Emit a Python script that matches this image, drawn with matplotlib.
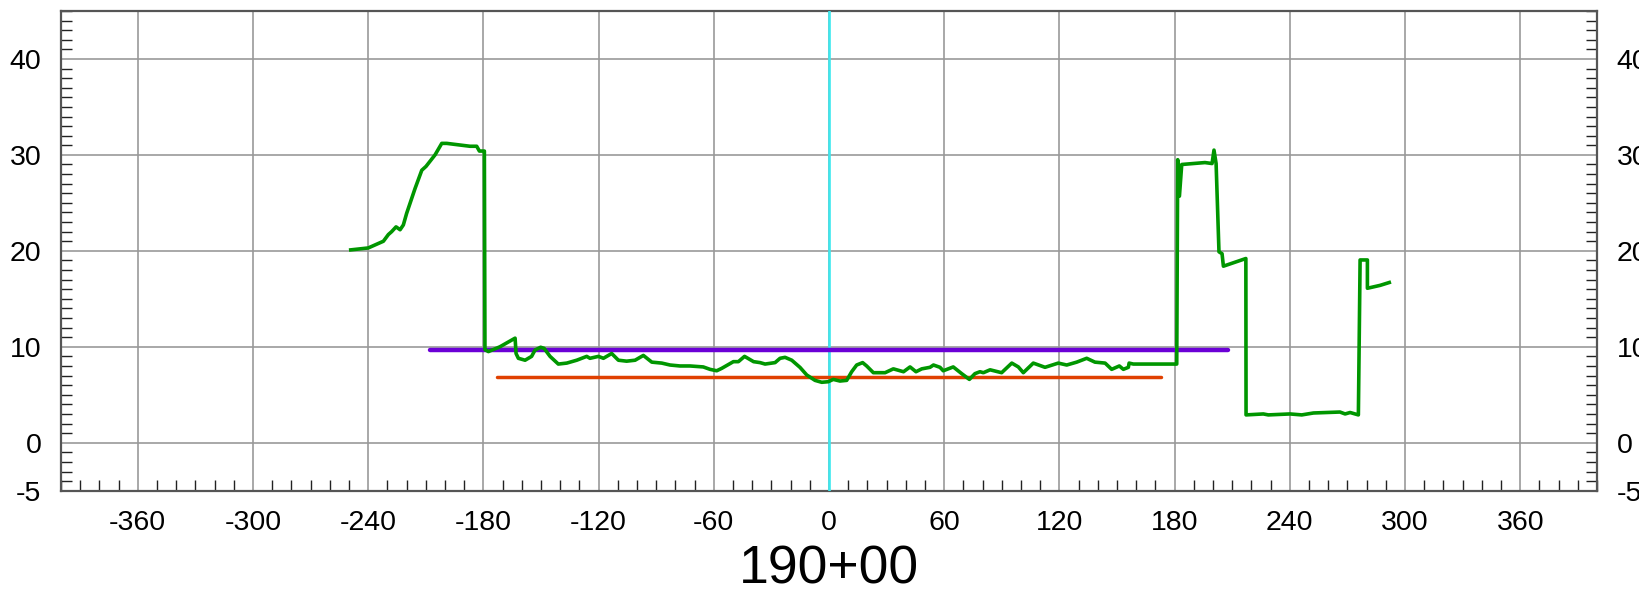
# Cross section plot for station 190+00
import matplotlib.pyplot as plt
import numpy as np

# Ground profile (offset, elevation)
ground_offset = [-249.1, -240.0, -232.1, -229.5, -227.8, -225.5, -223.4, -221.7, -220.0, -215.6,
                 -212.1, -209.9, -205.2, -201.7, -199.1, -187.0, -183.5, -182.1, -179.5, -179.2,
                 -177.4, -171.4, -163.5, -163.0, -161.8, -158.3, -154.9, -153.1, -150.2, -148.4,
                 -145.3, -141.0, -136.6, -131.4, -126.2, -124.5, -120.1, -117.5, -113.2, -109.7,
                 -105.4, -101.0, -96.7, -92.3, -87.1, -82.8, -77.6, -72.4, -65.5, -62.0,
                 -58.5, -55.9, -49.8, -47.2, -44.0, -39.3, -35.9, -33.3, -28.1, -25.5,
                 -22.9, -19.4, -15.1, -11.6, -7.3, -3.8, -0.4, 2.2, 5.7, 9.2,
                 11.8, 14.4, 17.5, 19.6, 23.1, 26.6, 29.2, 33.5, 38.8, 42.2,
                 45.3, 48.3, 52.6, 54.4, 57.8, 59.5, 64.7, 69.1, 73.1, 76.0,
                 78.6, 80.4, 83.9, 89.9, 95.2, 98.6, 101.2, 106.4, 112.5, 119.4,
                 123.8, 129.0, 134.2, 138.5, 143.8, 147.2, 151.2, 153.3, 155.9, 156.3,
                 158.5, 181.1, 181.6, 182.5, 183.7, 195.8, 199.5, 200.5, 201.6, 203.1,
                 204.7, 205.4, 217.1, 217.2, 226.2, 228.8, 240.1, 246.2, 252.3, 266.1,
                 268.8, 271.4, 275.7, 276.6, 280.4, 280.4, 287.0, 291.8]
ground_elev = [20.1, 20.3, 21.0, 21.7, 22.0, 22.5, 22.2, 22.7, 23.9, 26.5,
               28.4, 28.8, 30.0, 31.2, 31.2, 30.9, 30.9, 30.4, 30.4, 9.7,
               9.5, 10.0, 10.9, 9.3, 8.8, 8.6, 9.0, 9.67, 9.95, 9.84,
               9.0, 8.2, 8.3, 8.6, 9.0, 8.8, 9.0, 8.8, 9.3, 8.6,
               8.5, 8.6, 9.1, 8.4, 8.3, 8.1, 8.0, 8.0, 7.9, 7.65,
               7.5, 7.75, 8.45, 8.45, 9.0, 8.45, 8.35, 8.2, 8.35, 8.8,
               8.9, 8.6, 7.85, 7.06, 6.5, 6.3, 6.36, 6.6, 6.43, 6.5,
               7.4, 8.1, 8.35, 8.0, 7.3, 7.3, 7.3, 7.7, 7.4, 7.9,
               7.4, 7.7, 7.86, 8.1, 7.86, 7.5, 7.9, 7.2, 6.6, 7.2,
               7.4, 7.3, 7.6, 7.3, 8.3, 7.9, 7.3, 8.3, 7.86, 8.3,
               8.1, 8.4, 8.8, 8.4, 8.3, 7.65, 8.0, 7.65, 7.86, 8.3,
               8.2, 8.2, 29.5, 25.7, 29.0, 29.2, 29.1, 30.5, 29.1, 19.9,
               19.7, 18.4, 19.2, 2.9, 3.0, 2.9, 3.0, 2.9, 3.1, 3.2,
               3.0, 3.15, 2.9, 19.05, 19.05, 16.1, 16.4, 16.7]

# Design lines (start offset, end offset, elevation)
purple_offset = [-208, 208]
purple_elev = [9.7, 9.7]
red_offset = [-173, 173]
red_elev = [6.9, 6.9]

x_ticks = [-360, -300, -240, -180, -120, -60, 0, 60, 120, 180, 240, 300, 360]
y_ticks = [-5, 0, 10, 20, 30, 40]
station = '190+00'

plt.rcParams['font.family'] = ['Liberation Sans', 'DejaVu Sans']
plt.rcParams['axes.unicode_minus'] = False  # plain hyphen like the source

fig = plt.figure(figsize=(16.4, 5.9), dpi=100)
ax = fig.add_axes([0.0372, 0.1683, 0.9366, 0.8131])

# centerline
ax.axvline(0, color='#3ee8ee', linewidth=1.9, zorder=3)

ax.plot(purple_offset, purple_elev, color='#6b00d6', linewidth=3.2, solid_capstyle='round', zorder=4)
ax.plot(red_offset, red_elev, color='#e04000', linewidth=2.5, solid_capstyle='round', zorder=4)
ax.plot(ground_offset, ground_elev, color='#009600', linewidth=2.6, solid_joinstyle='round', zorder=5)

ax.set_xlim(-400, 400)
ax.set_ylim(-5, 45)
ax.set_xticks(x_ticks)
ax.set_yticks(y_ticks)
ax.set_xticks(np.arange(-400, 401, 10), minor=True)
ax.set_yticks(np.arange(-5, 46, 1), minor=True)

ax.grid(True, which='major', color='#999999', linewidth=1.2, zorder=0)
ax.tick_params(which='major', length=0, labelsize=20.5, pad=14,
               left=True, right=True, labelright=True, bottom=True, top=False)
ax.tick_params(which='minor', direction='in', length=8, width=1, color='#222222',
               left=True, right=True, bottom=True, top=False)
for s in ax.spines.values():
    s.set_color('#555555')
    s.set_linewidth(1.6)

ax.set_xlabel(station, fontsize=38.5, labelpad=6)

plt.savefig('out.png', dpi=100)
